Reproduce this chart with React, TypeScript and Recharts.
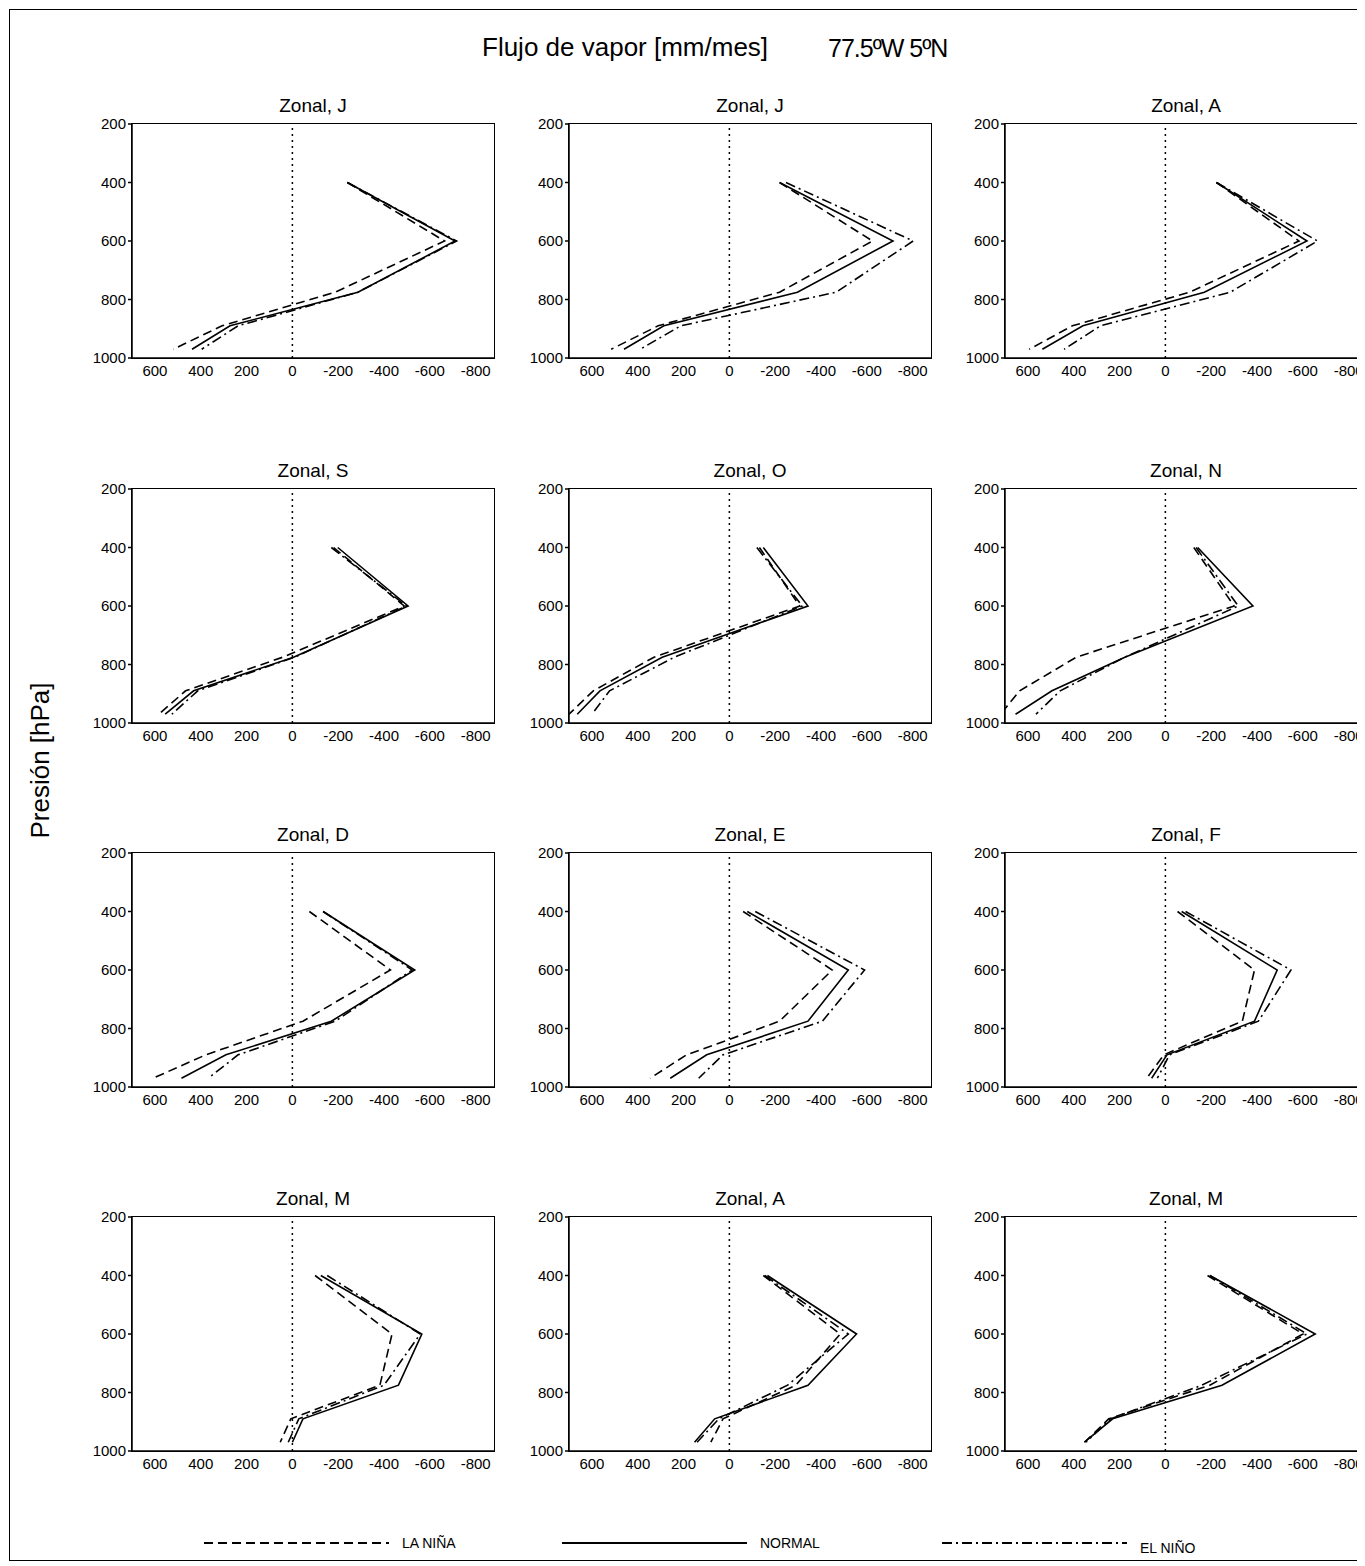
import { LineChart, Line, XAxis, YAxis, ReferenceLine } from "recharts";

const levels = [400, 600, 775, 890, 970];
const xTicks = [600, 400, 200, 0, -200, -400, -600, -800];
const yTicks = [200, 400, 600, 800, 1000];

const titles = ["J", "J", "A", "S", "O", "N", "D", "E", "F", "M", "A", "M"];

// values per panel, ordered by levels (400..970 hPa)
const normal = [
  [-240, -710, -286, 272, 438],
  [-219, -714, -297, 286, 460],
  [-223, -618, -170, 360, 537],
  [-198, -505, -5, 431, 555],
  [-148, -343, 293, 565, 664],
  [-141, -382, 177, 495, 654],
  [-134, -534, -170, 290, 484],
  [-78, -519, -343, 99, 258],
  [-71, -488, -389, -7, 60],
  [-124, -565, -463, -46, 0],
  [-166, -555, -343, 64, 152],
  [-194, -654, -247, 230, 353],
];
const laNina = [
  [-240, -664, -187, 307, 520],
  [-219, -625, -219, 311, 516],
  [-223, -583, -106, 406, 594],
  [-180, -488, 42, 466, 583],
  [-131, -307, 329, 594, 700],
  [-124, -300, 389, 636, 720],
  [-74, -428, -46, 378, 608],
  [-60, -449, -219, 187, 346],
  [-53, -389, -336, 7, 81],
  [-99, -435, -382, 7, 53],
  [-148, -484, -290, 28, 81],
  [-184, -601, -194, 247, 353],
];
const elNino = [
  [-240, -717, -286, 237, 396],
  [-247, -802, -466, 212, 389],
  [-223, -664, -283, 283, 442],
  [-170, -498, -10, 413, 526],
  [-120, -318, 240, 523, 600],
  [-134, -318, 177, 459, 565],
  [-134, -523, -187, 237, 367],
  [-113, -590, -406, 28, 134],
  [-88, -548, -406, -18, 35],
  [-152, -558, -400, -28, 18],
  [-155, -519, -254, 46, 141],
  [-194, -618, -159, 240, 346],
];

const font = "'Liberation Sans', Arial, sans-serif";
const colLeft = [72, 509, 945];
const rowTop = [104, 469, 833, 1197];
const PW = 362;
const PH = 234;
const TOP = 10;

const toRows = (vals: number[]) => vals.map((x, i) => ({ x, p: levels[i] }));

const Panel = ({ idx }: { idx: number }) => {
  const left = colLeft[idx % 3];
  const top = rowTop[Math.floor(idx / 3)];
  const tick = { fontSize: 15, fill: "#000", fontFamily: font };
  return (
    <div style={{ position: "absolute", left, top }}>
      <div
        style={{
          position: "absolute",
          left: 50,
          width: PW,
          top: TOP - 29,
          textAlign: "center",
          fontSize: 19,
          fontFamily: font,
        }}
      >
        Zonal, {titles[idx]}
      </div>
      <div
        style={{
          position: "absolute",
          left: 49,
          top: TOP - 1,
          width: PW,
          height: PH,
          border: "1.5px solid #000",
          pointerEvents: "none",
        }}
      />
      <LineChart width={50 + PW + 5} height={TOP + PH + 25} margin={{ top: TOP, right: 5, left: 0, bottom: 0 }}>
        <XAxis
          type="number"
          dataKey="x"
          domain={[-880, 700]}
          reversed
          allowDataOverflow
          ticks={xTicks}
          interval={0}
          tick={tick}
          tickLine={false}
          tickSize={5}
          height={25}
          stroke="#000"
          strokeWidth={1.5}
        />
        <YAxis
          type="number"
          domain={[200, 1000]}
          reversed
          ticks={yTicks}
          interval={0}
          tick={tick}
          tickSize={4}
          width={50}
          stroke="#000"
          strokeWidth={1.5}
        />
        <ReferenceLine x={0} stroke="#000" strokeDasharray="2 4" strokeWidth={1.5} />
        <Line data={toRows(laNina[idx])} dataKey="p" stroke="#000" strokeWidth={1.6}
          strokeDasharray="9 5" dot={false} isAnimationActive={false} />
        <Line data={toRows(normal[idx])} dataKey="p" stroke="#000" strokeWidth={1.6}
          dot={false} isAnimationActive={false} />
        <Line data={toRows(elNino[idx])} dataKey="p" stroke="#000" strokeWidth={1.6}
          strokeDasharray="10 4 2 4" dot={false} isAnimationActive={false} />
      </LineChart>
    </div>
  );
};

const LegendItem = ({ x, dash, label, dy = 0 }: { x: number; dash?: string; label: string; dy?: number }) => (
  <g>
    <line x1={x} x2={x + 185} y1={1533} y2={1533} stroke="#000" strokeWidth={2} strokeDasharray={dash} />
    <text x={x + 198} y={1538 + dy} fontSize={14} fontFamily={font}>{label}</text>
  </g>
);

export default function App() {
  return (
    <div
      style={{
        position: "relative",
        width: 1400,
        height: 1550,
        border: "1px solid #000",
        marginLeft: 1,
        marginTop: 1,
        background: "#fff",
        fontFamily: font,
      }}
    >
      <div style={{ position: "absolute", left: 472, top: 22, fontSize: 26, fontFamily: font }}>
        Flujo de vapor [mm/mes]
      </div>
      <div style={{ position: "absolute", left: 818, top: 24, fontSize: 25, fontFamily: font, letterSpacing: -1 }}>77.5ºW 5ºN</div>
      <div
        style={{
          position: "absolute",
          left: 30 - 100,
          top: 735,
          width: 200,
          textAlign: "center",
          transform: "rotate(-90deg)",
          fontSize: 26,
          fontFamily: font,
        }}
      >
        Presión [hPa]
      </div>
      {titles.map((_, i) => (
        <Panel key={i} idx={i} />
      ))}
      <svg width={1400} height={1550} style={{ position: "absolute", left: 0, top: 0, pointerEvents: "none" }}>
        <LegendItem x={194} dash="9 5" label="LA NIÑA" />
        <LegendItem x={552} label="NORMAL" />
        <LegendItem x={932} dash="10 4 2 4" label="EL NIÑO" dy={5} />
      </svg>
    </div>
  );
}
